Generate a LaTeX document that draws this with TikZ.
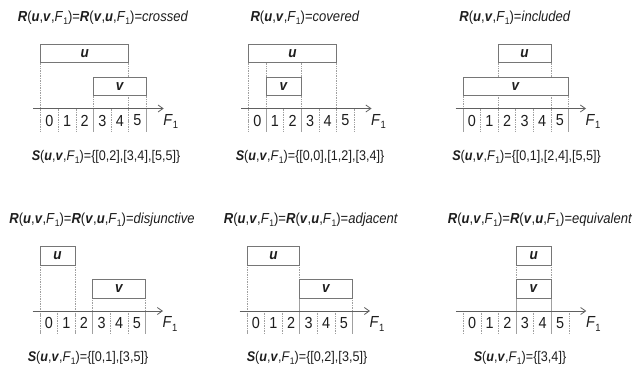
\documentclass[tikz,border=0pt]{standalone}
\usepackage{fontspec}
\setmainfont{Liberation Sans}[FakeStretch=0.9]
\usetikzlibrary{arrows.meta}
\pgfdeclarelayer{back}
\pgfdeclarelayer{bg}
\pgfsetlayers{back,bg,main}
\definecolor{txt}{HTML}{1E1E1E}
\definecolor{boxc}{HTML}{767676}
\definecolor{guidec}{HTML}{A0A0A0}
\definecolor{axisc}{HTML}{606060}
\newcommand{\bu}{\textbf{\textit{u}}}
\newcommand{\bv}{\textbf{\textit{v}}}
\newcommand{\bR}{\textbf{\textit{R}}}
\newcommand{\bS}{\textbf{\textit{S}}}
\newcommand{\Fsub}{\textit{F}\raisebox{-0.35ex}{\fontsize{9.5}{9.5}\selectfont 1}}
\newcommand{\Fbig}{\textit{F}\raisebox{-0.4ex}{\fontsize{10.5}{10.5}\selectfont 1}}
\newcommand{\cw}{17.6}
\tikzset{
  ttl/.style={font=\fontsize{14.5}{14.5}\selectfont, text=txt, inner sep=0pt},
  setl/.style={font=\fontsize{14}{14}\selectfont, text=txt, inner sep=0pt},
  boxnode/.style={draw=boxc, line width=0.8pt, fill=white, inner sep=0pt, outer sep=0pt,
    minimum height=18.5pt, font=\fontsize{15}{15}\selectfont, text=txt},
  digit/.style={font=\fontsize{16}{16}\selectfont, text=txt, inner sep=0pt},
  flabel/.style={font=\fontsize{16}{16}\selectfont, text=txt, inner sep=0pt, anchor=west},
  axisline/.style={draw=axisc, line width=0.8pt, -{Straight Barb[length=5pt,width=7pt]}},
  guide/.style={draw=guidec, line width=0.7pt, densely dotted},
}
\newcommand{\drawpanel}[7]{%
\begin{scope}[shift={(#2,#3)}]
  \node[boxnode, minimum width={(#5-#4)*\cw*1pt}] (#1u) at ({(#4+#5)/2*\cw},53.5) {\bu};
  \node[boxnode, minimum width={(#7-#6)*\cw*1pt}] (#1v) at ({(#6+#7)/2*\cw},86.5) {\bv};
  \coordinate (#1b) at (0,131);
  \coordinate (#1s) at (-7.5,108.5);
  \coordinate (#1e) at (123,108.5);
  \draw[axisline] (#1s) -- (#1e);
  \foreach \k in {0,...,5} \node[digit] (#1d\k) at ({(\k+0.5)*\cw},120.5) {\k};
  \node[flabel] (#1f) at (122.5,121.5) {\Fbig};
  \begin{pgfonlayer}{bg}
    \foreach \k in {0,...,6} \draw[guide] ({\k*\cw},108.5) -- ({\k*\cw},131);
    \draw[guide] (#1u.south west) -- (#1u.south west |- #1b);
    \draw[guide] (#1u.south east) -- (#1u.south east |- #1b);
    \draw[guide] (#1v.south west) -- (#1v.south west |- #1b);
    \draw[guide] (#1v.south east) -- (#1v.south east |- #1b);
  \end{pgfonlayer}
\end{scope}}
\begin{document}
\begin{tikzpicture}[x=1pt,y=-1pt]
\begin{pgfonlayer}{back}
\fill[white] (0,0) rectangle (636,369);
\end{pgfonlayer}
\useasboundingbox (0,0) rectangle (636,369);
% top row
\drawpanel{pa}{40.7}{0}{0}{5}{3}{6}
\drawpanel{pb}{248.5}{0}{0}{5}{1}{3}
\drawpanel{pc}{463}{0}{2}{5}{0}{6}
\draw[guide] (pbv.north west |- pbu.south) -- (pbv.north west);
\draw[guide] (pbv.north east |- pbu.south) -- (pbv.north east);
% bottom row
\drawpanel{pd}{40}{202.5}{0}{2}{3}{6}
\drawpanel{pe}{247}{202.5}{0}{3}{3}{6}
\drawpanel{pf}{463.3}{202.5}{3}{5}{3}{5}
% titles
\node[ttl] (ta) at (103,18) {\bR(\bu,\bv,\Fsub)=\bR(\bv,\bu,\Fsub)=\textit{crossed}};
\node[ttl] (tb) at (305,18) {\bR(\bu,\bv,\Fsub)=\textit{covered}};
\node[ttl] (tc) at (515,18) {\bR(\bu,\bv,\Fsub)=\textit{included}};
\node[ttl] (td) at (102,220) {\bR(\bu,\bv,\Fsub)=\bR(\bv,\bu,\Fsub)=\textit{disjunctive}};
\node[ttl] (te) at (311,220) {\bR(\bu,\bv,\Fsub)=\bR(\bv,\bu,\Fsub)=\textit{adjacent}};
\node[ttl] (tf) at (540,220) {\bR(\bu,\bv,\Fsub)=\bR(\bv,\bu,\Fsub)=\textit{equivalent}};
% set texts
\node[setl] (sa) at (106,157) {\bS(\bu,\bv,\Fsub)=\{[0,2],[3,4],[5,5]\}};
\node[setl] (sb) at (310,157) {\bS(\bu,\bv,\Fsub)=\{[0,0],[1,2],[3,4]\}};
\node[setl] (sc) at (526.5,157) {\bS(\bu,\bv,\Fsub)=\{[0,1],[2,4],[5,5]\}};
\node[setl] (sd) at (88,358) {\bS(\bu,\bv,\Fsub)=\{[0,1],[3,5]\}};
\node[setl] (se) at (307,358) {\bS(\bu,\bv,\Fsub)=\{[0,2],[3,5]\}};
\node[setl] (sf) at (520,358) {\bS(\bu,\bv,\Fsub)=\{[3,4]\}};
\end{tikzpicture}
\end{document}
